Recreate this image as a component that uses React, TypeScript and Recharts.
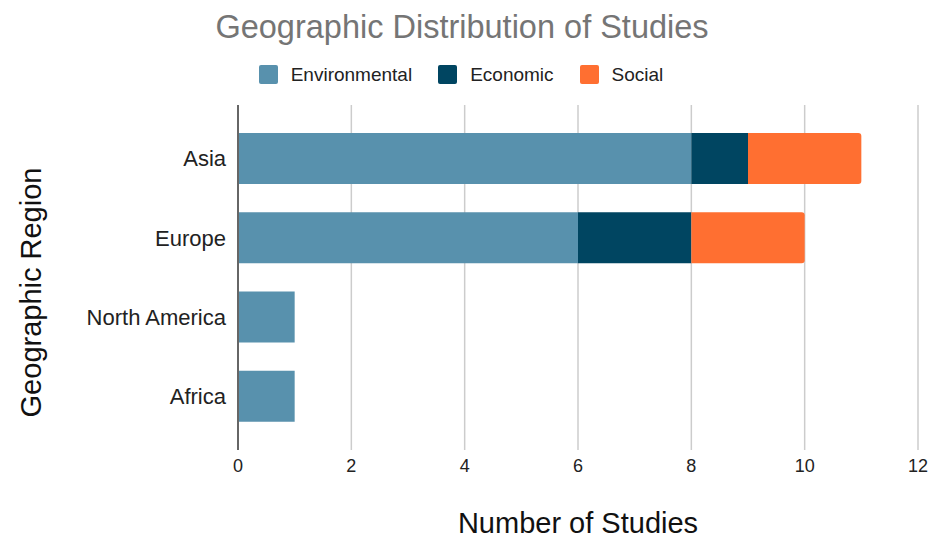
import React from 'react';
import {
  BarChart,
  Bar,
  XAxis,
  YAxis,
  CartesianGrid,
  Legend,
  Label
} from 'recharts';

const regions = ['Asia', 'Europe', 'North America', 'Africa'];
const environmental = [8, 6, 1, 1];
const economic = [1, 2, 0, 0];
const social = [2, 2, 0, 0];
const xTicks = [0, 2, 4, 6, 8, 10, 12];

const series = [
  { key: 'environmental', name: 'Environmental', color: '#5891ad' },
  { key: 'economic', name: 'Economic', color: '#004561' },
  { key: 'social', name: 'Social', color: '#ff6f31' }
];

const data = regions.map((region, i) => ({
  region,
  environmental: environmental[i],
  economic: economic[i],
  social: social[i]
}));

const FONT = '"Liberation Sans", Arial, sans-serif';

const LegendContent = () => (
  <div style={{ display: 'flex', justifyContent: 'center', height: 19, fontFamily: FONT, fontSize: 19, color: '#222' }}>
    {series.map((s) => (
      <div key={s.key} style={{ display: 'flex', alignItems: 'center', margin: '0 13px', height: 19 }}>
        <span style={{ width: 19, height: 19, background: s.color, borderRadius: 2, marginRight: 13, display: 'inline-block' }} />
        <span style={{ lineHeight: '19px' }}>{s.name}</span>
      </div>
    ))}
  </div>
);

const YTitle = (props: any) => {
  const vb = props.viewBox || { x: 0, y: 0, height: 0 };
  const x = 41;
  const y = vb.y + vb.height / 2 + 15;
  return (
    <text
      x={x}
      y={y}
      transform={`rotate(-90, ${x}, ${y})`}
      textAnchor="middle"
      style={{ fontSize: 29, fill: '#111', fontFamily: FONT }}
    >
      Geographic Region
    </text>
  );
};

const App: React.FC = () => {
  return (
    <div style={{ position: 'absolute', left: 0, top: 0, width: 932, height: 547, background: '#fff', fontFamily: FONT }}>
      <div style={{ position: 'absolute', top: 9, left: -4, width: 932, textAlign: 'center', fontSize: 32.5, color: '#757575' }}>
        Geographic Distribution of Studies
      </div>
      <BarChart
        width={932}
        height={547}
        data={data}
        layout="vertical"
        margin={{ top: 86, right: 14, left: 0, bottom: 57 }}
        barSize={51}
      >
        <CartesianGrid horizontal={false} stroke="#cccccc" strokeWidth={1.5} />
        <XAxis
          type="number"
          domain={[0, 12]}
          ticks={xTicks}
          height={40}
          axisLine={false}
          tickLine={false}
          tick={{ fill: '#222', fontSize: 18, fontFamily: FONT }}
          tickMargin={3}
        >
          <Label value="Number of Studies" position="bottom" offset={22} style={{ fontSize: 29, fill: '#111', fontFamily: FONT }} />
        </XAxis>
        <YAxis
          type="category"
          dataKey="region"
          width={238}
          axisLine={{ stroke: '#666', strokeWidth: 2 }}
          tickLine={false}
          padding={{ top: 14, bottom: 14 }}
          tick={{ fill: '#222', fontSize: 22, fontFamily: FONT }}
          tickMargin={6}
        >
          <Label content={<YTitle />} />
        </YAxis>
        <Legend verticalAlign="top" content={<LegendContent />} wrapperStyle={{ top: 65, left: -5, width: 932 }} />
        <Bar dataKey="environmental" name="Environmental" stackId="a" fill="#5891ad" isAnimationActive={false} />
        <Bar dataKey="economic" name="Economic" stackId="a" fill="#004561" isAnimationActive={false} />
        <Bar dataKey="social" name="Social" stackId="a" fill="#ff6f31" radius={[0, 3, 3, 0]} isAnimationActive={false} />
      </BarChart>
    </div>
  );
};

export default App;
